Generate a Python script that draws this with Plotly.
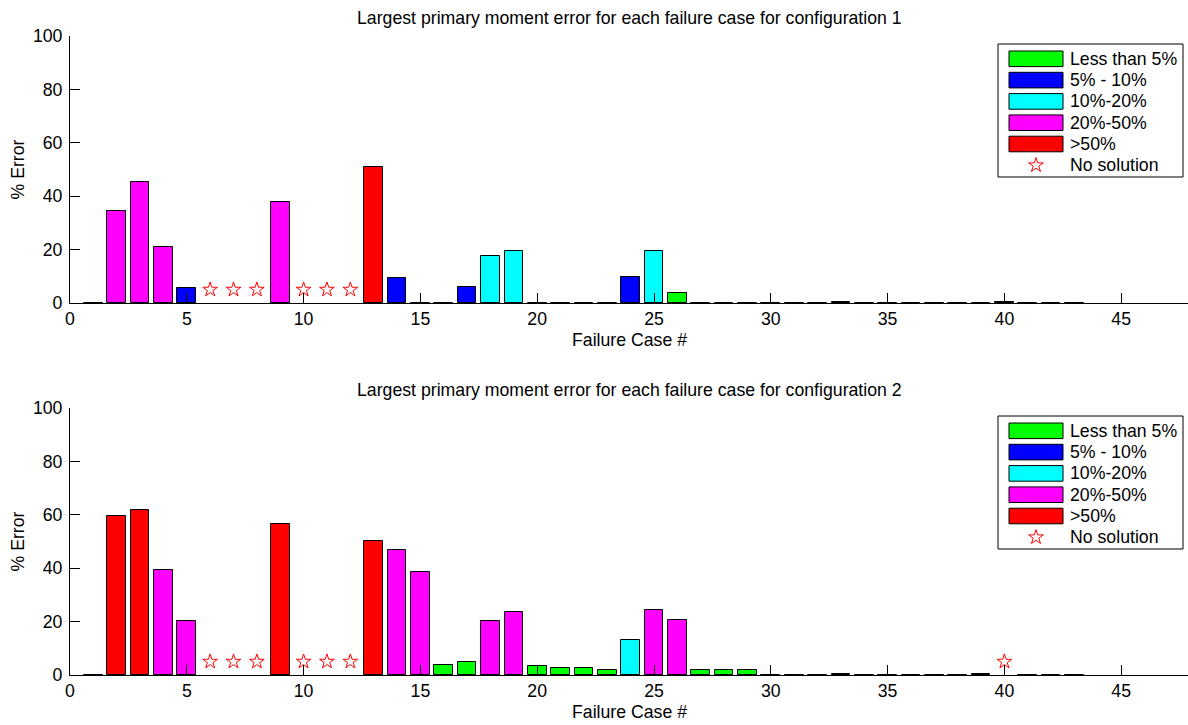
import plotly.graph_objects as go

# Failure cases and largest primary moment error (%) per case; None = no solution
cases = list(range(1, 44))
NS = None
config1_error = [0, 34.5, 45.4, 20.9, 5.6, NS, NS, NS, 37.7, NS, NS, NS, 50.8, 9.5,
                 0, 0, 6.0, 17.5, 19.5, 0, 0, 0, 0, 9.7, 19.4, 3.6,
                 0, 0, 0, 0, 0, 0, 0.3, 0, 0, 0, 0, 0, 0, 0.4, 0, 0, 0]
config2_error = [0, 59.6, 61.7, 39.2, 20.1, NS, NS, NS, 56.4, NS, NS, NS, 50.3, 46.9,
                 38.5, 3.6, 4.9, 20.2, 23.5, 3.3, 2.6, 2.5, 1.8, 13.2, 24.3, 20.5,
                 1.9, 1.9, 1.9, 0, 0, 0, 0.2, 0, 0, 0, 0, 0, 0.5, NS, 0, 0, 0]

band_labels = ["Less than 5%", "5% - 10%", "10%-20%", "20%-50%", ">50%"]
band_upper = [5, 10, 20, 50, float("inf")]
band_colors = ["#00ff00", "#0000ff", "#00ffff", "#ff00ff", "#ff0000"]
no_solution_label = "No solution"
no_solution_marker_y = 5

titles = ["Largest primary moment error for each failure case for configuration 1",
          "Largest primary moment error for each failure case for configuration 2"]
x_label = "Failure Case #"
y_label = "% Error"
x_ticks = list(range(0, 50, 5))
y_ticks = list(range(0, 101, 20))

W, H = 1188, 725
L = 70
FONT = dict(family="Liberation Sans, Arial, sans-serif", size=17.7, color="black")


def band_color(v):
    for up, c in zip(band_upper, band_colors):
        if v < up:
            return c
    return band_colors[-1]


fig = go.Figure()
panels = [config1_error, config2_error]
# pixel rows of each axes box (top, bottom)
rows = [(36, 303), (408, 675)]

for i, vals in enumerate(panels):
    xa = "x" if i == 0 else "x2"
    ya = "y" if i == 0 else "y2"
    bx = [c for c, v in zip(cases, vals) if v is not None]
    by = [v for v in vals if v is not None]
    fig.add_trace(go.Bar(
        x=bx, y=by, width=0.8, xaxis=xa, yaxis=ya,
        marker=dict(color=[band_color(v) for v in by], line=dict(color="black", width=1)),
        showlegend=False, hoverinfo="x+y"))
    sx = [c for c, v in zip(cases, vals) if v is None]
    fig.add_trace(go.Scatter(
        x=sx, y=[no_solution_marker_y] * len(sx), mode="markers", xaxis=xa, yaxis=ya,
        marker=dict(symbol="star-open", size=11, color="red", line=dict(color="red", width=1)),
        showlegend=False))

axis_common = dict(
    showline=True, linecolor="black", linewidth=1, ticks="inside", ticklen=10,
    tickcolor="black", tickwidth=1, showgrid=False, zeroline=False,
    tickfont=FONT, mirror=False)

layout = dict(
    width=W, height=H, margin=dict(l=L, r=0, t=0, b=0, autoexpand=False),
    paper_bgcolor="white", plot_bgcolor="rgba(0,0,0,0)", bargap=0,
    font=FONT,
    xaxis=dict(axis_common, range=[0, (W - L) / 23.36], tickvals=x_ticks,
               anchor="y", domain=[0, 1]),
    yaxis=dict(axis_common, range=[0, 100], tickvals=y_ticks, anchor="x",
               ticklabelstandoff=3,
               domain=[1 - rows[0][1] / H, 1 - rows[0][0] / H]),
    xaxis2=dict(axis_common, range=[0, (W - L) / 23.36], tickvals=x_ticks,
                anchor="y2", domain=[0, 1]),
    yaxis2=dict(axis_common, range=[0, 100], tickvals=y_ticks, anchor="x2",
                ticklabelstandoff=3,
                domain=[1 - rows[1][1] / H, 1 - rows[1][0] / H]),
    # overlay axes in figure pixel units for the legend boxes
    xaxis3=dict(range=[L, W], domain=[0, 1], visible=False, anchor="y3", fixedrange=True),
    yaxis3=dict(range=[H, 0], domain=[0, 1], visible=False, anchor="x3", fixedrange=True),
)
fig.update_layout(**layout)

annotations = []
shapes = []
for i, (top, bot) in enumerate(rows):
    annotations.append(dict(text=titles[i], xref="paper", yref="paper", x=0.5,
                            y=1 - (top - 18) / H, xanchor="center", yanchor="middle",
                            showarrow=False, font=FONT))
    annotations.append(dict(text=x_label, xref="paper", yref="paper", x=0.5,
                            y=1 - (bot + 37) / H, xanchor="center", yanchor="middle",
                            showarrow=False, font=FONT))
    annotations.append(dict(text=y_label, xref="paper", yref="paper",
                            x=(17 - L) / (W - L), y=1 - ((top + bot) / 2) / H,
                            xanchor="center", yanchor="middle", textangle=-90,
                            showarrow=False, font=FONT))

    # legend box
    ly0 = top + 8
    shapes.append(dict(type="rect", xref="x3", yref="y3", x0=998, x1=1183,
                       y0=ly0, y1=ly0 + 133, line=dict(color="black", width=1),
                       fillcolor="white", layer="below"))
    for k, (lab, col) in enumerate(zip(band_labels, band_colors)):
        cy = ly0 + 14.8 + 21.3 * k
        shapes.append(dict(type="rect", xref="x3", yref="y3", x0=1009, x1=1063,
                           y0=cy - 7.8, y1=cy + 7.8, fillcolor=col,
                           line=dict(color="black", width=1), layer="below"))
        annotations.append(dict(text=lab, xref="x3", yref="y3", x=1068, y=cy,
                                xanchor="left", yanchor="middle", showarrow=False,
                                font=FONT))
    cy = ly0 + 14.8 + 21.3 * len(band_labels)
    annotations.append(dict(text=no_solution_label, xref="x3", yref="y3", x=1068, y=cy,
                            xanchor="left", yanchor="middle", showarrow=False, font=FONT))
    fig.add_trace(go.Scatter(
        x=[1036], y=[cy], xaxis="x3", yaxis="y3", mode="markers",
        marker=dict(symbol="star-open", size=11, color="red", line=dict(color="red", width=1)),
        showlegend=False, hoverinfo="skip"))

fig.update_layout(annotations=annotations, shapes=shapes)
fig.write_html("out.html")
